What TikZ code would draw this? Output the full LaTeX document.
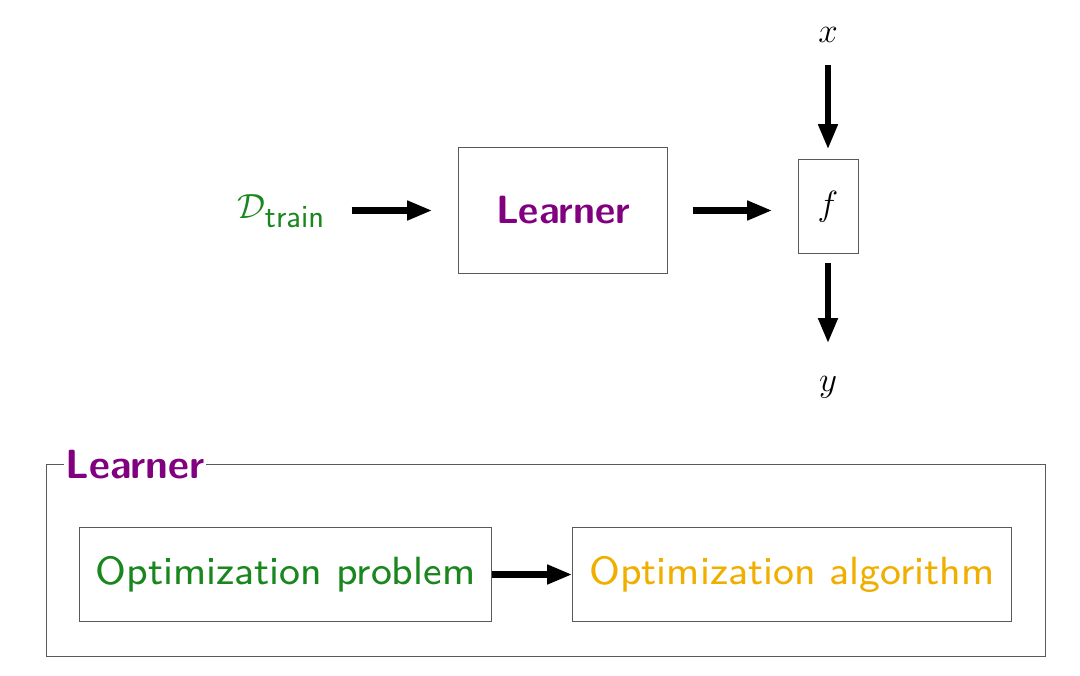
\documentclass[tikz,border=0pt]{standalone}
\usepackage{fontspec}
\newfontfamily\lmsseight{lmsans8-regular.otf}
\usetikzlibrary{arrows.meta}
\definecolor{dgreen}{RGB}{25,135,30}
\definecolor{lpurple}{RGB}{128,0,128}
\definecolor{lgold}{RGB}{240,175,0}
\begin{document}
\begin{tikzpicture}[x=0.025cm,y=-0.025cm,
  box/.style={draw=black!65,line width=0.7pt,inner sep=0pt},
  arr/.style={line width=4.5pt,-{Triangle[length=18pt,width=13pt]}},
  big/.style={font=\fontsize{29}{34}\selectfont},
  mid/.style={font=\fontsize{28}{33}\selectfont\lmsseight},
  lrn/.style={text=lpurple,font=\fontsize{28}{34}\selectfont\sffamily\bfseries}]
\useasboundingbox (0,0) rectangle (1080,676);
% top row
\node[inner sep=0pt,text=dgreen,anchor=base east,font=\fontsize{33}{39}\selectfont] (dtrain) at (325,219) {$\mathcal{D}_{\mathsf{train}}$};
\node[box,lrn,minimum width=5.2cm,minimum height=3.125cm] (learner) at (563,210.5) {Learner};
\node[box,big,minimum width=1.5cm,minimum height=2.325cm] (f) at (828,206.5) {$f$};
\node[big,inner sep=0pt] (x) at (828,35) {$x$};
\node[big,inner sep=0pt] (y) at (828,387) {$y$};
\draw[arr,shorten <=19pt,shorten >=18.5pt] (dtrain.east |- learner.west) -- (learner.west);
\draw[arr,shorten <=17.8pt,shorten >=17.8pt] (learner.east) -- (learner.east -| f.west);
\draw[arr,shorten <=16pt,shorten >=7.1pt] (x.south) -- (f.north);
\draw[arr,shorten <=6.4pt,shorten >=23pt] (f.south) -- (y.north);
% bottom part
\node[box,minimum width=24.95cm,minimum height=4.775cm] (outer) at (546,560.5) {};
\node[lrn,font=\fontsize{29}{34}\selectfont\sffamily\bfseries,fill=white,inner sep=1pt,anchor=west] (outerlabel) at ([xshift=12.5pt]outer.north west) {Learner};
\node[box,mid,text=dgreen,minimum width=10.275cm,minimum height=2.325cm] (prob) at (285.5,574.5) {Optimization problem};
\node[box,mid,text=lgold,minimum width=10.95cm,minimum height=2.325cm] (alg) at (792,574.5) {Optimization algorithm};
\draw[arr] (prob.east) -- (alg.west);
\end{tikzpicture}
\end{document}
